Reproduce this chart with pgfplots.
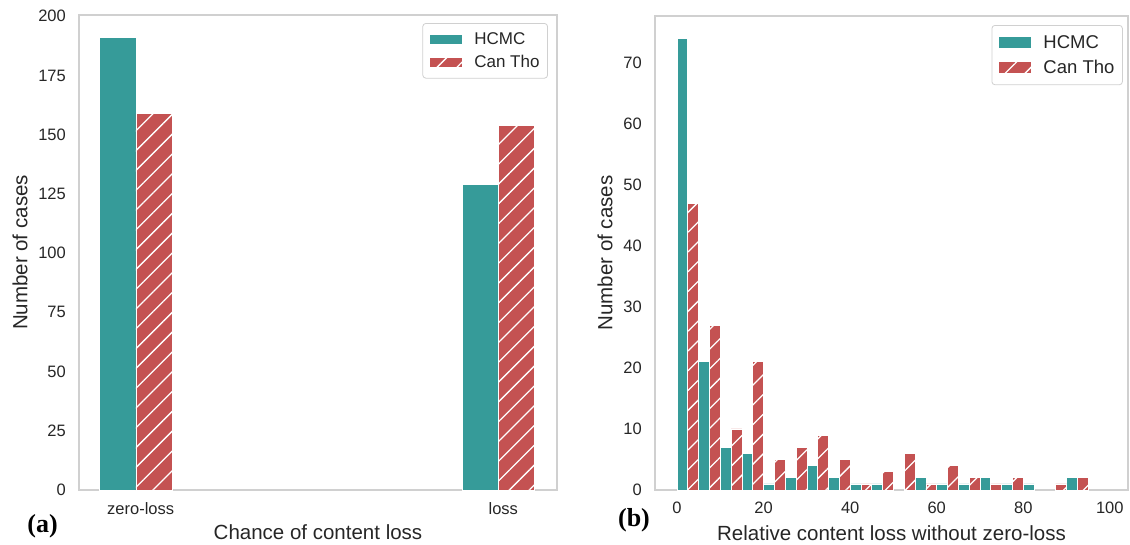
\documentclass[border=0pt]{standalone}
\usepackage{fontspec}
\setmainfont{Liberation Sans}
\newfontfamily\timesfont{Liberation Serif}
\usepackage{pgfplots}
\pgfplotsset{compat=1.18}
\usetikzlibrary{patterns.meta}
\definecolor{cteal}{RGB}{54,155,153}
\definecolor{cred}{RGB}{196,82,82}
\definecolor{txt}{RGB}{38,38,38}
\definecolor{frame}{RGB}{208,208,208}

\pgfplotsset{
  mystyle/.style={
    scale only axis, enlargelimits=false,
    axis line style={draw=frame, line width=1.2pt},
    major tick length=0pt, minor tick num=0,
    tick label style={font=\fontsize{16.5}{19}\selectfont, text=txt},
    /pgf/number format/assume math mode=true,
    yticklabel style={anchor=east, inner sep=0pt, xshift=-13pt},
    xticklabel style={anchor=north, inner sep=0pt, yshift=-12pt},
    label style={font=\fontsize{20.5}{24}\selectfont, text=txt},
    legend cell align=left,
  },
  tealbar/.style={ybar, bar shift=0pt, fill=cteal, draw=white, line width=0.8pt},
  redbar/.style={ybar, bar shift=0pt, fill=cred, draw=white, line width=0.8pt,
    postaction={pattern={Lines[angle=45,distance=14pt,line width=1.3pt]}, pattern color=white}},
  lgimg/.style={legend image code/.code={\draw[##1, sharp corners, line width=0.5pt] (0pt,-#1) rectangle (33pt,#1);}},
}

\begin{document}
\begin{tikzpicture}
\useasboundingbox (0pt,0pt) rectangle (1130pt,544pt);

% ---------- (a) ----------
\begin{axis}[mystyle,
  at={(79pt,54pt)}, anchor=south west,
  width=478pt, height=475pt,
  xmin=-0.157, xmax=1.161, ymin=0, ymax=200.5,
  xtick={0.013,1.013}, xticklabels={zero-loss,loss},
  ytick={0,25,...,200},
  xlabel={Chance of content loss}, ylabel={Number of cases},
  xlabel style={at={(axis description cs:0.5,-0.0895)}, anchor=center},
  ylabel style={at={(axis description cs:-0.1234,0.5)}, anchor=center},
  legend style={at={(axis description cs:0.981,0.983)}, anchor=north east,
    draw=frame, line width=0.8pt, rounded corners=3pt,
    font=\fontsize{17}{20}\selectfont, text=txt,
    inner xsep=6pt, inner ysep=7pt, row sep=5.5pt, column sep=10pt},
]
\addplot[tealbar, bar width=0.1, lgimg=5pt] coordinates {(-0.05,191) (0.95,129)};
\addlegendentry{HCMC}
\addplot[redbar, bar width=0.1, lgimg=5pt] coordinates {(0.05,159) (1.05,154)};
\addlegendentry{Can Tho}
\end{axis}

% ---------- (b) ----------
\begin{axis}[mystyle,
  at={(655pt,54pt)}, anchor=south west,
  width=473pt, height=474pt,
  xmin=-5.1, xmax=104.2, ymin=0, ymax=77.7,
  xtick={0,20,...,100}, ytick={0,10,...,70},
  xlabel={Relative content loss without zero-loss}, ylabel={Number of cases},
  xlabel style={at={(axis description cs:0.5,-0.0905)}, anchor=center},
  ylabel style={at={(axis description cs:-0.1057,0.5)}, anchor=center},
  legend style={at={(axis description cs:0.989,0.981)}, anchor=north east,
    draw=frame, line width=0.8pt, rounded corners=3pt,
    font=\fontsize{18.5}{22}\selectfont, text=txt,
    inner xsep=6pt, inner ysep=8pt, row sep=6pt, column sep=10pt},
]
\addplot[tealbar, bar width=2.5, lgimg=6pt] coordinates {
  (1.25,74) (6.25,21) (11.25,7) (16.25,6) (21.25,1) (26.25,2) (31.25,4)
  (36.25,2) (41.25,1) (46.25,1) (56.25,2) (61.25,1) (66.25,1) (71.25,2)
  (76.25,1) (81.25,1) (91.25,2)};
\addlegendentry{HCMC}
\addplot[redbar, bar width=2.5, lgimg=6pt] coordinates {
  (3.75,47) (8.75,27) (13.75,10) (18.75,21) (23.75,5) (28.75,7) (33.75,9)
  (38.75,5) (43.75,1) (48.75,3) (53.75,6) (58.75,1) (63.75,4) (68.75,2)
  (73.75,1) (78.75,2) (88.75,1) (93.75,2)};
\addlegendentry{Can Tho}
\end{axis}

\node[font=\timesfont\bfseries\fontsize{26}{30}\selectfont, text=black] at (42.5pt,18pt) {(a)};
\node[font=\timesfont\bfseries\fontsize{26}{30}\selectfont, text=black] at (634pt,24pt) {(b)};
\end{tikzpicture}
\end{document}
